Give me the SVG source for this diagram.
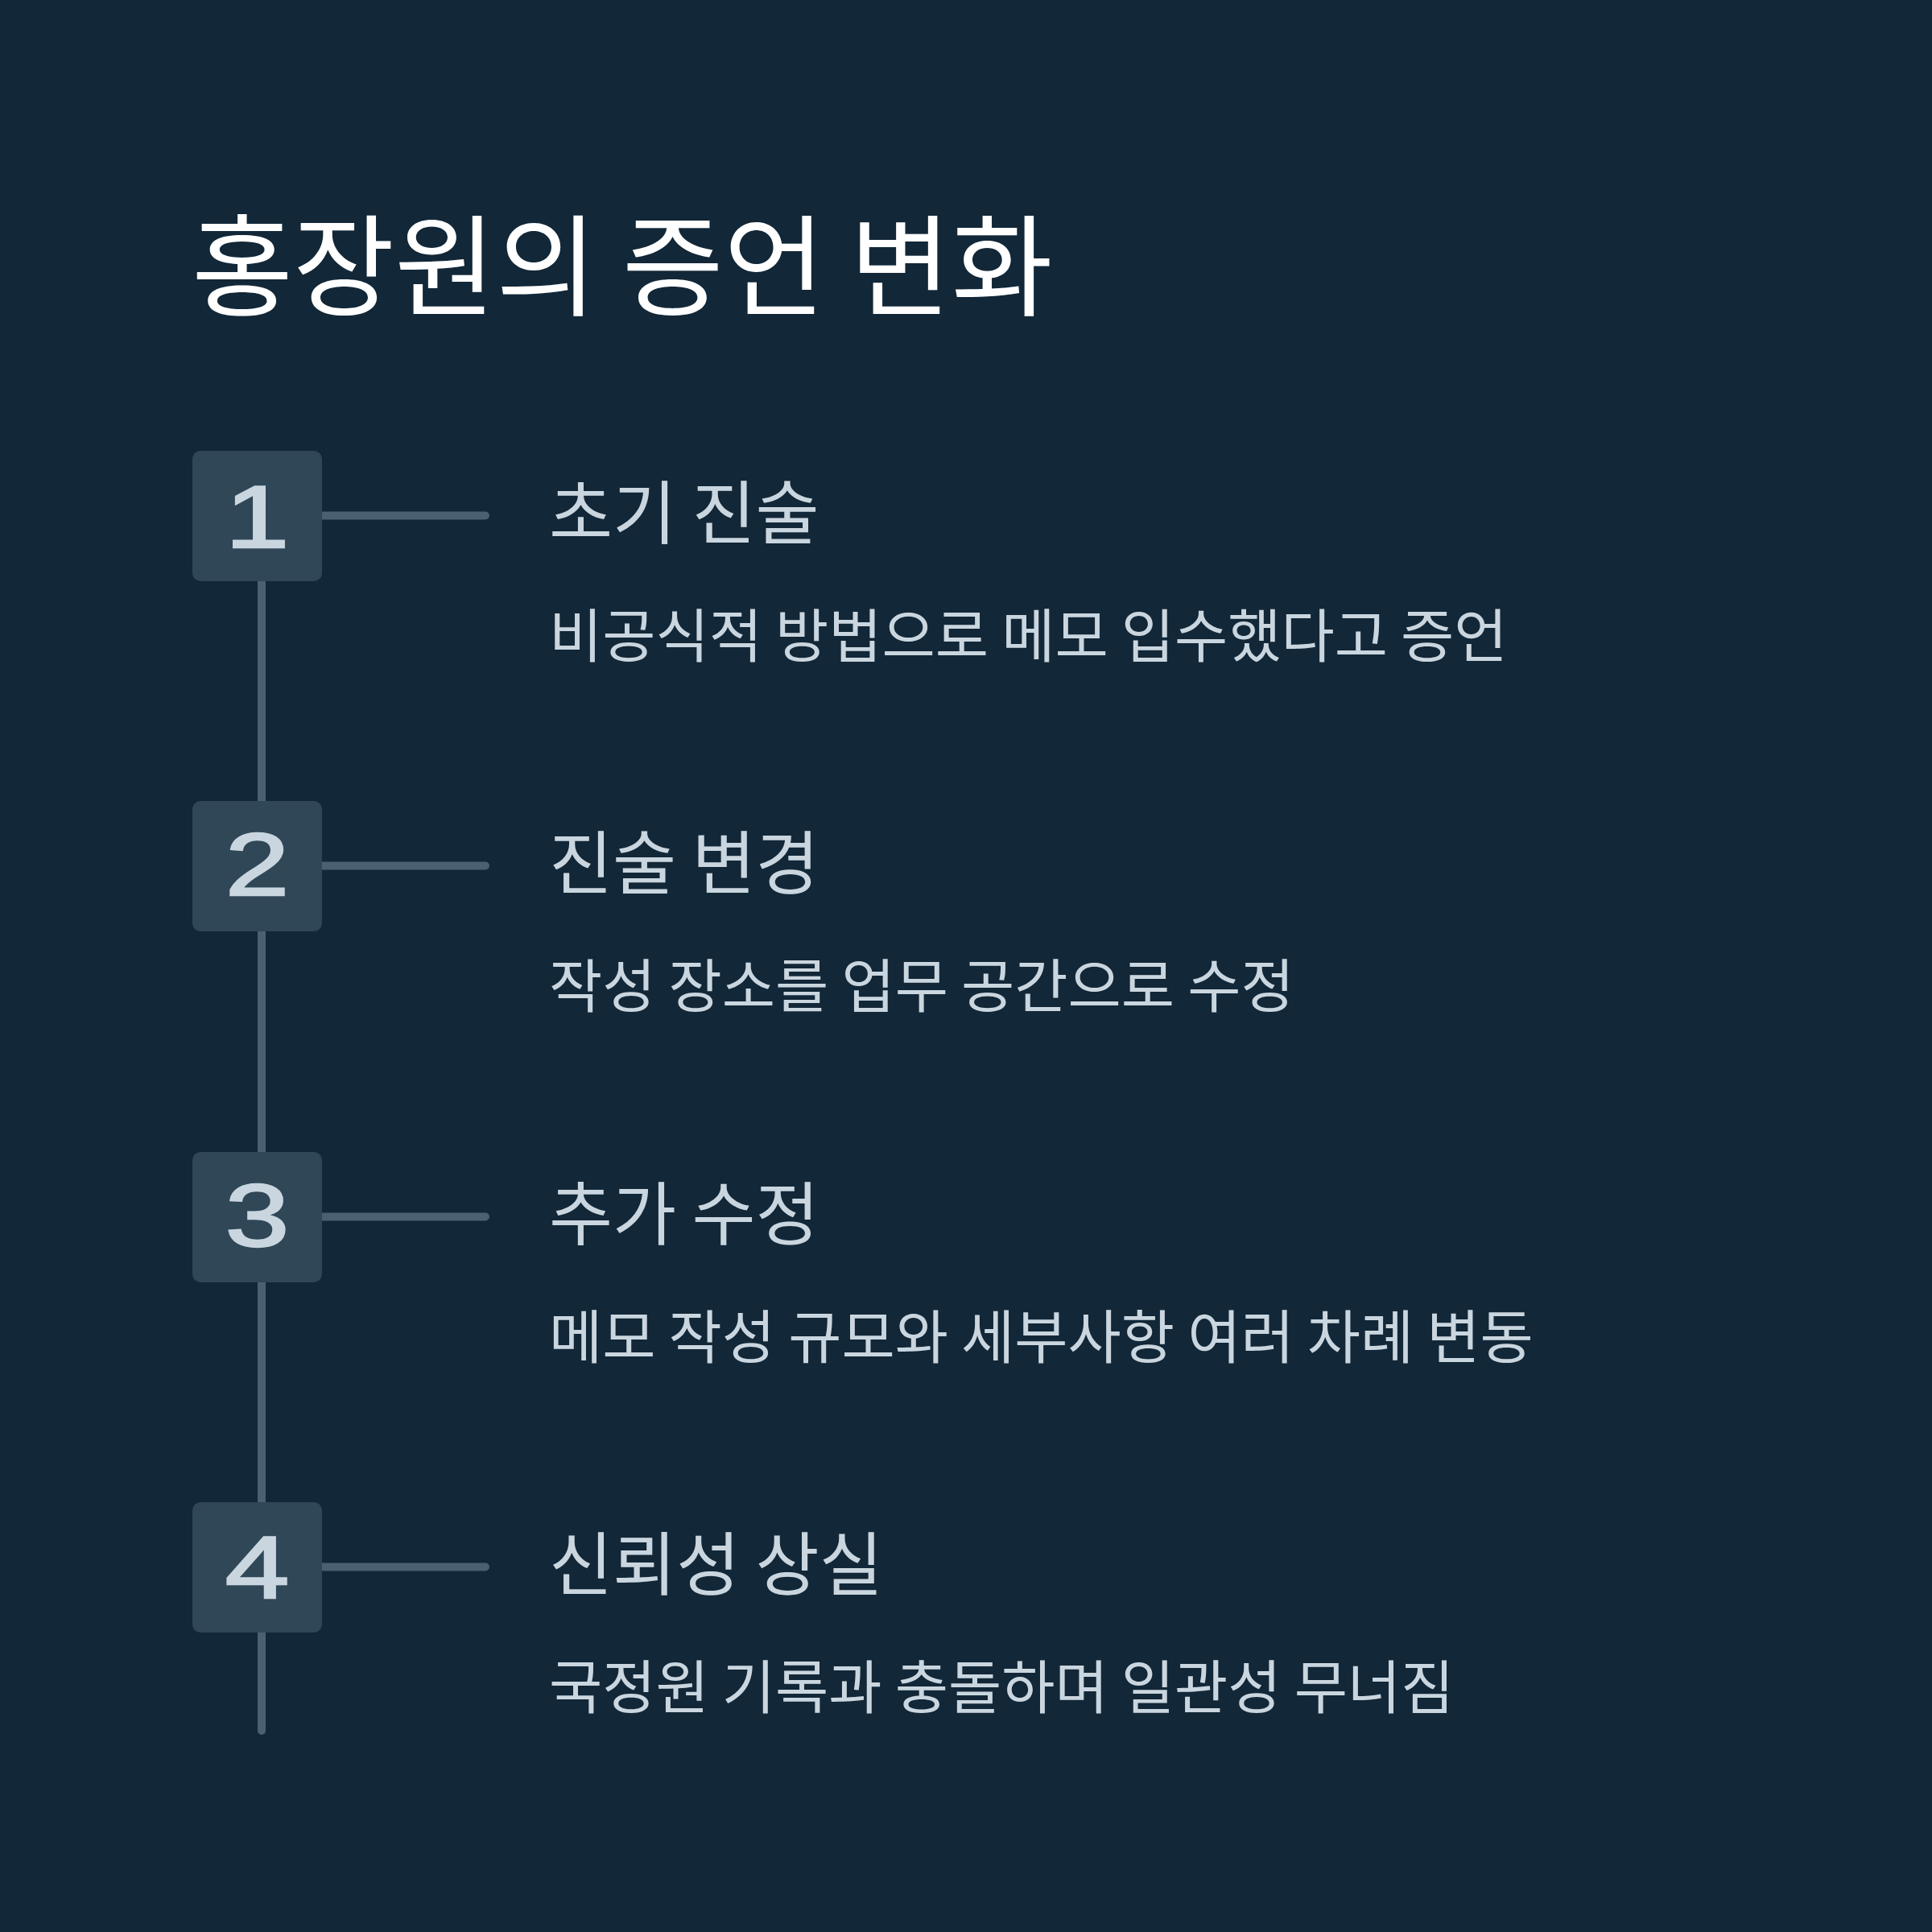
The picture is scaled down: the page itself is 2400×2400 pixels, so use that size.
<svg xmlns="http://www.w3.org/2000/svg" width="2400" height="2400" viewBox="0 0 2400 2400">
<style>
.bg{fill:#122737}
.box{fill:#2f4757}
.num{font-family:"Liberation Sans",Arial,sans-serif;font-size:110px;fill:#cad6df;stroke:#cad6df;stroke-width:2.5;text-anchor:middle}
.title{font-family:"Noto Sans CJK KR","Noto Sans",sans-serif;font-size:137px;fill:#ffffff}
.head{font-family:"Noto Sans CJK KR","Noto Sans",sans-serif;font-size:86px;fill:#cad6df}
.sub{font-family:"Noto Sans CJK KR","Noto Sans",sans-serif;font-size:72px;fill:#cad6df}
.conn{stroke:#4a6172;stroke-width:10;stroke-linecap:round;fill:none}
</style>
<rect class="bg" x="0" y="0" width="2400" height="2400"/>
<text class="title" x="238" y="382">홍장원의 증언 변화</text>
<g id="connectors">
<line class="conn" x1="325" y1="641" x2="325" y2="2150"/>
<line class="conn" x1="400" y1="640.5" x2="603" y2="640.5"/>
<line class="conn" x1="400" y1="1075.5" x2="603" y2="1075.5"/>
<line class="conn" x1="400" y1="1511.5" x2="603" y2="1511.5"/>
<line class="conn" x1="400" y1="1946.5" x2="603" y2="1946.5"/>
</g>
<g id="step1">
<rect class="box" x="239" y="560" width="161" height="162" rx="10"/>
<text class="num" x="319.5" y="680" transform="translate(319.5 0) scale(1.3 1) translate(-319.5 0)">1</text>
<text class="head" x="682" y="669">초기 진술</text>
<text class="sub" x="682" y="816">비공식적 방법으로 메모 입수했다고 증언</text>
</g>
<g id="step2">
<rect class="box" x="239" y="995" width="161" height="162" rx="10"/>
<text class="num" x="319.5" y="1112" transform="translate(319.5 0) scale(1.3 1) translate(-319.5 0)">2</text>
<text class="head" x="682" y="1104">진술 변경</text>
<text class="sub" x="682" y="1251">작성 장소를 업무 공간으로 수정</text>
</g>
<g id="step3">
<rect class="box" x="239" y="1431" width="161" height="162" rx="10"/>
<text class="num" x="319.5" y="1548" transform="translate(319.5 0) scale(1.3 1) translate(-319.5 0)">3</text>
<text class="head" x="682" y="1540">추가 수정</text>
<text class="sub" x="682" y="1687">메모 작성 규모와 세부사항 여러 차례 변동</text>
</g>
<g id="step4">
<rect class="box" x="239" y="1866" width="161" height="162" rx="10"/>
<text class="num" x="319.5" y="1985" transform="translate(319.5 0) scale(1.3 1) translate(-319.5 0)">4</text>
<text class="head" x="682" y="1975">신뢰성 상실</text>
<text class="sub" x="682" y="2122">국정원 기록과 충돌하며 일관성 무너짐</text>
</g>
</svg>
